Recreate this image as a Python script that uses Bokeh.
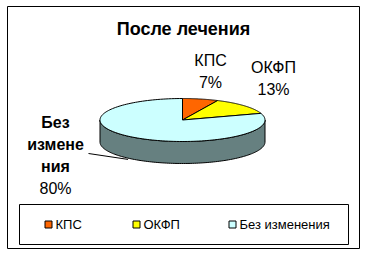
import numpy as np
from bokeh.plotting import figure
from bokeh.models import Range1d
from bokeh.core.properties import value
from bokeh.embed import file_html
from bokeh.resources import INLINE

# ---- data ----
title = "После лечения"
categories = ["КПС", "ОКФП", "Без изменения"]
values = [7, 13, 80]
colors = ["#FF6600", "#FFFF00", "#CCFFFF"]
side_colors = ["#803300", "#808000", "#668080"]
# label text lines as shown on the chart (last category is wrapped)
label_lines = [["КПС"], ["ОКФП"], ["Без", "измене", "ния"]]

W, H = 366, 255
FONT = "Liberation Sans"

p = figure(width=W, height=H, output_backend="svg", toolbar_location=None,
           x_range=Range1d(0, W), y_range=Range1d(H, 0), min_border=0)
p.axis.visible = False
p.grid.visible = False
p.outline_line_color = None
p.background_fill_color = "white"
p.border_fill_color = "white"

# outer chart frame
p.rect(x=[183], y=[127], width=[352], height=[242], fill_color="white",
       line_color="black", line_width=1)

# ---- 3D pie ----
cx, cy, a, b, depth = 182, 119.5, 82.5, 21.5, 22
tot = float(sum(values))
fr = np.array(values) / tot
ends = np.cumsum(fr) * 360.0
starts = ends - fr * 360.0

def ex(t):
    return cx + a * np.sin(np.radians(t))

def ey(t, dy=0.0):
    return cy - b * np.cos(np.radians(t)) + dy

# sides (visible front half: 90..270 degrees clockwise from top)
for s, e, sc in zip(starts, ends, side_colors):
    s0, e0 = max(s, 90.0), min(e, 270.0)
    if e0 <= s0:
        continue
    t = np.linspace(s0, e0, 120)
    xs = list(ex(t)) + list(ex(t[::-1]))
    ys = list(ey(t)) + list(ey(t[::-1], depth))
    p.patch(xs, ys, fill_color=sc, line_color="black", line_width=1)

# top faces
for s, e, c in zip(starts, ends, colors):
    t = np.linspace(s, e, 150)
    xs = [cx] + list(ex(t)) + [cx]
    ys = [cy] + list(ey(t)) + [cy]
    p.patch(xs, ys, fill_color=c, line_color="black", line_width=1)

# ---- data labels ----
label_pos = [(210, 59.5), (273, 67), (55, 122)]
line_gap = 22
lbl_fs = "16px"
for i, (lines, (lx, ly)) in enumerate(zip(label_lines, label_pos)):
    pct = f"{round(values[i] / tot * 100)}%"
    all_lines = lines + [pct]
    for k, txt in enumerate(all_lines):
        bold = (i == 2 and k < len(lines))
        p.text(x=[lx], y=[ly + k * line_gap], text=[txt],
               text_font=value(FONT), text_font_size=lbl_fs,
               text_font_style="bold" if bold else "normal",
               text_align="center", text_baseline="middle", text_color="black")

# leader line for the large slice
mid = (starts[2] + ends[2]) / 2.0
p.line(x=[88, ex(mid) - 6], y=[153, ey(mid, depth)], line_color="black", line_width=1)

# ---- title ----
p.text(x=[183], y=[28], text=[title], text_font=value(FONT),
       text_font_size="18px", text_font_style="bold",
       text_align="center", text_baseline="middle", text_color="black")

# ---- legend ----
p.rect(x=[183.5], y=[224], width=[329], height=[40], fill_color="white",
       line_color="black", line_width=1)
leg_x = [48, 136, 232]
leg_y = 224
p.rect(x=leg_x, y=[leg_y] * 3, width=[7] * 3, height=[7] * 3,
       fill_color=colors, line_color="black", line_width=1)
p.text(x=[v + 7 for v in leg_x], y=[leg_y] * 3, text=categories,
       text_font=value(FONT), text_font_size="13px",
       text_align="left", text_baseline="middle", text_color="black")

open("out.html", "w").write(file_html(p, INLINE))
